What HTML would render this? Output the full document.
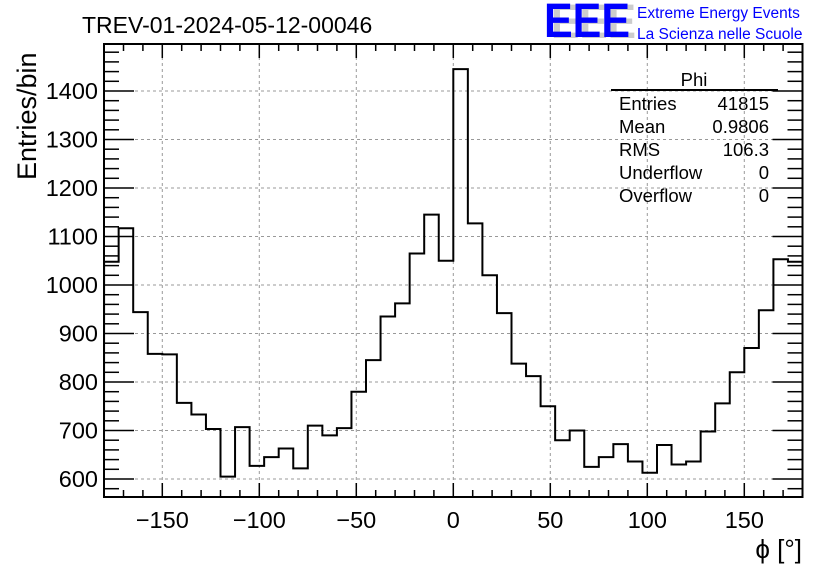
<!DOCTYPE html>
<html><head><meta charset="utf-8"><style>
html,body{margin:0;padding:0;background:#fff;}
svg{display:block;font-family:"Liberation Sans",sans-serif;}
</style></head><body>
<svg id="s" width="836" height="572" xmlns="http://www.w3.org/2000/svg">
<rect width="836" height="572" fill="#fff"/>
<g id="grid" stroke="#999" stroke-width="1" stroke-dasharray="3,3"></g>
<path id="h" fill="none" stroke="#000" stroke-width="2"/>
<g id="ticks" stroke="#000" stroke-width="1.5"></g>
<rect x="104" y="44" width="698.5" height="453" fill="none" stroke="#000" stroke-width="2"/>
<g id="lab" font-size="23.5" fill="#000"></g>
<text x="82" y="33" font-size="23">TREV-01-2024-05-12-00046</text>
<text x="36" y="180" font-size="27" transform="rotate(-90 36 180)" text-anchor="start">Entries/bin</text>
<text x="802" y="558" font-size="26" text-anchor="end">ϕ [°]</text>
<text x="551" y="38" font-size="48" fill="#ccc" font-weight="bold" textLength="85" lengthAdjust="spacingAndGlyphs">EEE</text>
<text x="544" y="37" font-size="48" fill="#0000ff" font-weight="bold" textLength="86" lengthAdjust="spacingAndGlyphs">EEE</text>
<text x="637" y="18" font-size="15.5" fill="#0000ff">Extreme Energy Events</text>
<text x="637" y="39" font-size="15.5" fill="#0000ff">La Scienza nelle Scuole</text>
<line x1="611" y1="90" x2="778" y2="90" stroke="#000" stroke-width="2"/>
<g font-size="18.5" fill="#000">
<text x="694" y="86" text-anchor="middle">Phi</text>
<text x="619" y="110">Entries</text><text x="769" y="110" text-anchor="end">41815</text>
<text x="619" y="133">Mean</text><text x="769" y="133" text-anchor="end">0.9806</text>
<text x="619" y="156">RMS</text><text x="769" y="156" text-anchor="end">106.3</text>
<text x="619" y="179">Underflow</text><text x="769" y="179" text-anchor="end">0</text>
<text x="619" y="202">Overflow</text><text x="769" y="202" text-anchor="end">0</text>
</g>
</svg>
<script>
var X=function(v){return 453.3+v*1.94;};
var Y=function(v){return 479-(v-600)*0.485;};
var ns="http://www.w3.org/2000/svg";
function el(p,t,a,txt){var e=document.createElementNS(ns,t);for(var k in a)e.setAttribute(k,a[k]);if(txt)e.textContent=txt;p.appendChild(e);}
var g=document.getElementById('grid'),t=document.getElementById('ticks'),l=document.getElementById('lab');
for(var v=-150;v<=150;v+=50){el(g,'line',{x1:X(v),x2:X(v),y1:45,y2:496});el(l,'text',{x:X(v),y:528,'text-anchor':'middle'},(v<0?'\u2212'+(-v):''+v));}
for(var v=600;v<=1400;v+=100){el(g,'line',{x1:105,x2:801,y1:Y(v),y2:Y(v)});el(l,'text',{x:98,y:Y(v)+8,'text-anchor':'end'},''+v);}
for(var v=-180;v<=180;v+=10){var L=(v%50==0)?14:7;el(t,'line',{x1:X(v),x2:X(v),y1:497,y2:497-L});el(t,'line',{x1:X(v),x2:X(v),y1:44,y2:44+L});}
for(var v=580;v<=1480;v+=20){var L=(v%100==0)?30:15;el(t,'line',{x1:104,x2:104+L,y1:Y(v),y2:Y(v)});el(t,'line',{x1:802.5,x2:802.5-L,y1:Y(v),y2:Y(v)});}
var d=[1048,1117,944,858,857,757,733,703,605,707,627,645,663,622,710,690,705,780,845,935,962,1065,1145,1050,1445,1127,1020,942,838,812,750,680,700,625,645,672,636,613,670,630,636,698,756,820,870,948,1053,1048];
var p='M104,497';for(var i=0;i<48;i++){var x0=X(-180+i*7.5),x1=X(-180+(i+1)*7.5);p+=' L'+x0+','+Y(d[i])+' L'+x1+','+Y(d[i]);}
p+=' L802.5,497';
document.getElementById('h').setAttribute('d',p);
</script>
</body></html>
